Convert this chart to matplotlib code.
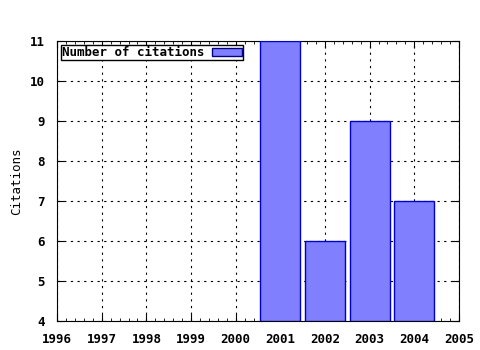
import matplotlib.pyplot as plt
from matplotlib.ticker import MultipleLocator

years = [2001, 2002, 2003, 2004]
citations = [11, 6, 9, 7]

plt.rcParams['font.family'] = 'DejaVu Sans Mono'
plt.rcParams['font.weight'] = 'bold'
plt.rcParams['font.size'] = 9

fig = plt.figure(figsize=(4.8, 3.5), dpi=100)
ax = fig.add_axes([0.119, 0.083, 0.837, 0.80])

ax.bar(years, [c - 4 for c in citations], bottom=4, width=0.9,
       color='#8080ff', edgecolor='#0000cc', linewidth=1, zorder=3,
       label='Number of citations')

ax.set_xlim(1996, 2005)
ax.set_ylim(4, 11)
ax.xaxis.set_major_locator(MultipleLocator(1))
ax.xaxis.set_minor_locator(MultipleLocator(0.2))
ax.yaxis.set_major_locator(MultipleLocator(1))
ax.tick_params(which='both', direction='in', top=True, right=True)
ax.tick_params(which='major', length=5)
ax.tick_params(which='minor', length=2)
ax.tick_params(axis='x', which='major', pad=9)
ax.tick_params(axis='y', which='major', pad=9)
ax.grid(True, which='major', linestyle=(0, (2, 4)), color='black', linewidth=0.8, zorder=0)
ax.set_axisbelow(True)
ax.set_ylabel('Citations', labelpad=5)

leg = ax.legend(loc='upper left', markerfirst=False, fancybox=False,
                framealpha=1, edgecolor='black', borderpad=0.1,
                handlelength=2.4, handleheight=0.6, handletextpad=0.6,
                borderaxespad=0.3)
leg.get_frame().set_linewidth(1)
leg.legend_handles[0].set_edgecolor('#000080')

fig.savefig('out.png', dpi=100)
